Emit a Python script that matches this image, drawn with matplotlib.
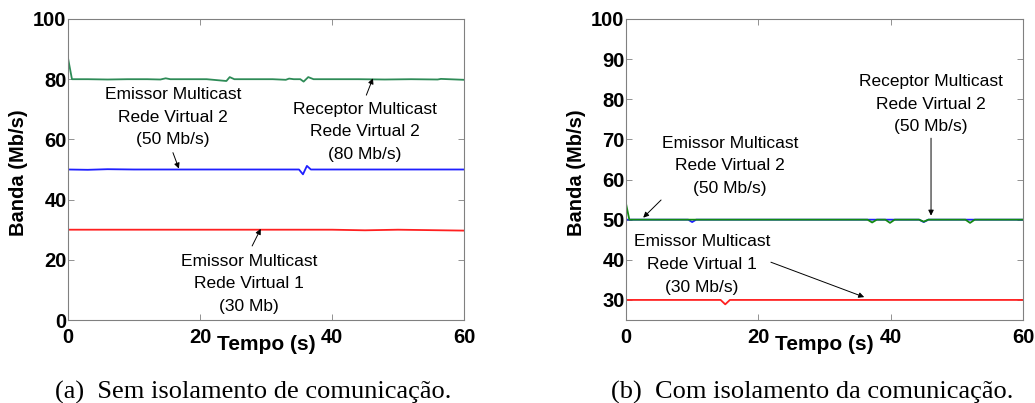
import matplotlib
matplotlib.use("Agg")
import matplotlib.pyplot as plt

# ---- data ----
# (a) without isolation
ga_t = [0, 0.6, 3, 6, 9, 12, 14.0, 14.8, 15.5, 18, 21, 24.0, 24.5, 25.2, 28, 31, 33.0, 33.5, 34.2, 35.2, 35.7, 36.4, 37.2, 40, 44, 48, 52, 56.0, 56.5, 60]
ga_v = [87, 80, 80, 79.9, 80, 80, 79.9, 80.3, 80, 80, 80, 79.4, 80.7, 80, 80, 80, 79.8, 80.2, 80, 80, 79.2, 80.7, 80, 80, 80, 79.9, 80, 79.9, 80.1, 79.8]
ba_t = [0, 3, 6, 10, 20, 30, 35.0, 35.6, 36.2, 36.8, 41, 50, 60]
ba_v = [50, 49.9, 50.1, 50, 50, 50, 50, 48.4, 51.2, 50, 50, 50, 50]
ra_t = [0, 10, 20, 30, 40, 45, 50, 60]
ra_v = [30, 30, 30, 30, 30, 29.8, 30, 29.7]

# (b) with isolation
gb_t = [0, 0.5, 5, 10, 20, 30, 36.5, 37.2, 37.9, 39.2, 39.9, 40.6, 44.3, 45.0, 45.7, 51.3, 52.0, 52.7, 60]
gb_v = [54, 50, 50, 50, 50, 50, 50, 49.3, 50, 50, 49.2, 50, 50, 49.5, 50, 50, 49.2, 50, 50]
bb_t = [0, 7, 9.4, 10.0, 10.6, 20, 44.3, 45.0, 45.7, 60]
bb_v = [50, 50, 50, 49.4, 50, 50, 50, 49.4, 50, 50]
rb_t = [0, 14.3, 15.0, 15.7, 30, 60]
rb_v = [30, 30, 28.9, 30, 30, 30]

xticks = [0, 20, 40, 60]
yticks_a = [0, 20, 40, 60, 80, 100]
yticks_b = [30, 40, 50, 60, 70, 80, 90, 100]

sans = "Liberation Sans"
serif = "Liberation Serif"

fig = plt.figure(figsize=(10.35, 4.03), dpi=100)
ax1 = fig.add_axes([68 / 1035, 83 / 403, 396 / 1035, 301 / 403])
ax2 = fig.add_axes([626 / 1035, 83 / 403, 397 / 1035, 301 / 403])


def style(ax, yticks, ylim):
    ax.set_xlim(0, 60)
    ax.set_ylim(*ylim)
    ax.set_xticks(xticks)
    ax.set_yticks(yticks)
    for s in ax.spines.values():
        s.set_color("#808080")
        s.set_linewidth(0.8)
    ax.tick_params(direction="in", length=4, width=0.6, color="#808080",
                   top=True, right=True, labelsize=14.5)
    ax.tick_params(axis="x", pad=6)
    ax.tick_params(axis="y", pad=1)
    for lab in ax.get_xticklabels() + ax.get_yticklabels():
        lab.set_fontweight("bold")
        lab.set_family(sans)
    ax.set_xlabel("Tempo (s)", fontsize=15, fontweight="bold", family=sans)
    ax.xaxis.set_label_coords(0.5, -0.05)
    ax.set_ylabel("Banda (Mb/s)", fontsize=14.5, fontweight="bold", family=sans)
    ax.yaxis.set_label_coords(-0.101, 0.49)


txt = dict(ha="center", va="center", fontsize=12.5, family=sans, linespacing=1.65)
arw = dict(arrowstyle="-|>", color="black", lw=0.7, mutation_scale=8, shrinkA=0, shrinkB=0)

# left panel
ax1.plot(ga_t, ga_v, color="#2e8b57", lw=1.3)
ax1.plot(ba_t, ba_v, color="#1f1fff", lw=1.3)
ax1.plot(ra_t, ra_v, color="#ff2020", lw=1.3)
style(ax1, yticks_a, (0, 100))
ax1.text(15.9, 67.4, "Emissor Multicast\nRede Virtual 2\n(50 Mb/s)", **txt)
ax1.annotate("", xy=(16.8, 50.3), xytext=(15.9, 55.6), arrowprops=arw)
ax1.text(45.0, 62.5, "Receptor Multicast\nRede Virtual 2\n(80 Mb/s)", **txt)
ax1.annotate("", xy=(46.2, 80.3), xytext=(45.2, 74.7), arrowprops=arw)
ax1.text(27.4, 12.0, "Emissor Multicast\nRede Virtual 1\n(30 Mb)", **txt)
ax1.annotate("", xy=(29.2, 30.3), xytext=(27.9, 24.6), arrowprops=arw)

# right panel
ax2.plot(bb_t, bb_v, color="#1f1fff", lw=1.3)
ax2.plot(gb_t, gb_v, color="#138a13", lw=1.3)
ax2.plot(rb_t, rb_v, color="#ff2020", lw=1.3)
style(ax2, yticks_b, (25, 100))
ax2.text(46.1, 78.8, "Receptor Multicast\nRede Virtual 2\n(50 Mb/s)", **txt)
ax2.annotate("", xy=(46.1, 51.0), xytext=(46.1, 70.3), arrowprops=arw)
ax2.text(15.7, 63.4, "Emissor Multicast\nRede Virtual 2\n(50 Mb/s)", **txt)
ax2.annotate("", xy=(2.6, 50.5), xytext=(5.3, 54.9), arrowprops=arw)
ax2.text(11.5, 38.9, "Emissor Multicast\nRede Virtual 1\n(30 Mb/s)", **txt)
ax2.annotate("", xy=(36.0, 30.7), xytext=(21.9, 39.4), arrowprops=arw)

# captions
fig.text(253 / 1035, 1 - 392 / 403, "(a)  Sem isolamento de comunicação.",
         ha="center", va="center", fontsize=19, family=serif)
fig.text(812 / 1035, 1 - 392 / 403, "(b)  Com isolamento da comunicação.",
         ha="center", va="center", fontsize=19, family=serif)

fig.savefig("out.png", dpi=100)
